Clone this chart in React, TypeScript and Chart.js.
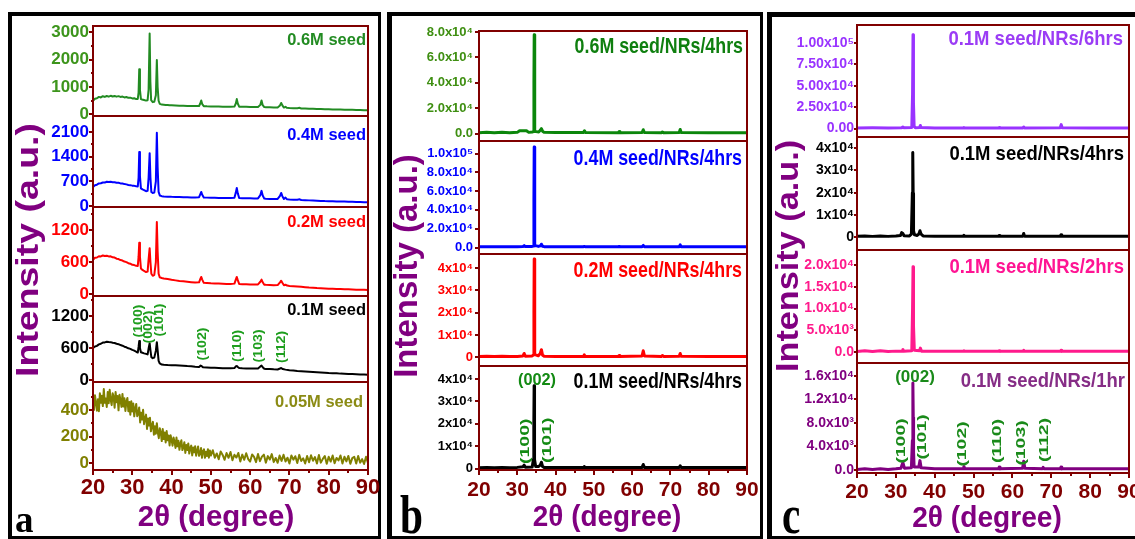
import React, { useEffect, useRef } from "react";
import { Chart, registerables } from "chart.js";

Chart.register(...registerables);

const PAGE_W = 1135;
const PAGE_H = 539;
const CANVAS_W = 1200;
const DARK_RED = "#800000";
const AXIS_PURPLE = "#800080";
const SANS = "'Liberation Sans', Arial, Helvetica, sans-serif";
const NARROW = "'Liberation Sans Narrow', 'Arial Narrow', 'Liberation Sans', Arial, sans-serif";
const SERIF = "'Liberation Serif', 'Times New Roman', serif";

// ---------- x axis ----------
const X_TICKS = [20, 30, 40, 50, 60, 70, 80, 90];
const X_MINOR = [25, 35, 45, 55, 65, 75, 85];

// ---------- panel a: seed layers ----------
const A06: [number, number][] = [[20,500],[20.5,575],[21,590],[21.5,640],[22,620],[22.5,665],[23,640],[23.5,672],[24,650],[24.5,680],[25,655],[25.5,675],[26,650],[26.5,668],[27,640],[27.5,652],[28,622],[28.5,635],[29,605],[29.5,612],[30,585],[30.5,590],[31,560],[31.4,565],[31.6,800],[31.77,1650],[31.95,900],[32.2,560],[32.5,545],[33,525],[33.5,505],[33.9,520],[34.15,900],[34.42,2950],[34.6,1200],[34.8,520],[35.2,450],[35.6,460],[36.0,700],[36.25,1980],[36.45,1000],[36.7,500],[37,385],[37.5,360],[38,352],[38.5,345],[39,342],[39.5,335],[40,332],[41,326],[42,322],[43,316],[44,312],[45,310],[46,305],[47,310],[47.3,400],[47.55,510],[47.8,380],[48.2,302],[49,296],[50,292],[51,290],[52,288],[53,285],[54,284],[55,282],[56,288],[56.35,400],[56.6,560],[56.85,400],[57.2,285],[58,280],[59,278],[60,275],[61,272],[62,272],[62.6,350],[62.9,510],[63.2,340],[63.6,270],[64,265],[65,262],[66,258],[67,258],[67.6,330],[67.9,420],[68.2,330],[68.6,252],[69,280],[69.3,245],[70,236],[71,230],[72,226],[72.6,242],[73,220],[74,215],[75,210],[76,205],[77,200],[78,196],[79,192],[80,190],[81,185],[82,180],[83,178],[84,175],[85,170],[86,168],[87,165],[88,160],[89,156],[90,150]];
const A04: [number, number][] = [[20,540],[20.5,590],[21,605],[21.5,640],[22,645],[22.5,668],[23,664],[23.5,688],[24,680],[24.5,688],[25,675],[25.5,675],[26,660],[26.5,658],[27,642],[27.5,638],[28,622],[28.5,614],[29,598],[29.5,592],[30,578],[30.5,572],[31,560],[31.4,555],[31.6,800],[31.77,1530],[31.95,850],[32.2,500],[32.6,470],[33,450],[33.5,420],[33.9,430],[34.15,800],[34.42,1500],[34.62,800],[34.85,400],[35.2,370],[35.6,380],[36.0,700],[36.25,2080],[36.45,1100],[36.7,400],[37,300],[37.5,280],[38,270],[39,265],[40,260],[41,258],[42,255],[43,250],[44,248],[45,245],[46,242],[47,250],[47.3,330],[47.55,400],[47.8,320],[48.2,240],[49,238],[50,235],[51,232],[52,230],[53,228],[54,226],[55,225],[56,235],[56.35,380],[56.6,510],[56.85,360],[57.2,230],[58,222],[59,220],[60,218],[61,215],[62,215],[62.6,310],[62.9,430],[63.2,300],[63.6,210],[64,205],[65,200],[66,198],[67,200],[67.6,290],[67.9,370],[68.2,280],[68.6,200],[69,240],[69.4,190],[70,185],[71,180],[72,175],[72.6,190],[73,170],[74,165],[75,160],[76,155],[77,150],[78,145],[79,140],[80,138],[81,135],[82,130],[83,128],[84,125],[85,120],[86,118],[87,115],[88,112],[89,110],[90,105]];
const A02: [number, number][] = [[20,640],[20.5,680],[21,685],[21.5,708],[22,705],[22.5,722],[23,712],[23.5,718],[24,705],[24.5,706],[25,688],[25.5,684],[26,662],[26.5,655],[27,636],[27.5,628],[28,608],[28.5,598],[29,578],[29.5,568],[30,548],[30.5,542],[31,528],[31.4,525],[31.6,700],[31.77,960],[31.95,700],[32.2,480],[32.6,452],[33,432],[33.5,412],[33.9,420],[34.15,650],[34.42,860],[34.62,600],[34.85,380],[35.2,342],[35.6,360],[36.0,600],[36.25,1350],[36.45,800],[36.7,380],[37,312],[37.5,300],[38,290],[39,280],[40,266],[41,256],[42,246],[43,238],[44,230],[45,222],[46,215],[47,220],[47.3,280],[47.55,320],[47.8,270],[48.2,210],[49,205],[50,200],[51,198],[52,195],[53,192],[54,190],[55,188],[56,195],[56.35,270],[56.6,320],[56.85,260],[57.2,190],[58,185],[59,182],[60,180],[61,178],[62,180],[62.6,230],[62.9,270],[63.2,220],[63.6,175],[64,172],[65,170],[66,165],[67,168],[67.6,220],[67.9,250],[68.2,210],[68.6,165],[69,175],[69.4,158],[70,150],[71,145],[72,140],[73,135],[74,128],[75,122],[76,118],[77,112],[78,108],[79,105],[80,100],[81,98],[82,95],[83,92],[84,90],[85,88],[86,85],[87,82],[88,80],[89,78],[90,75]];
const A01: [number, number][] = [[20,600],[20.5,628],[21,640],[21.5,668],[22,680],[22.5,702],[23,705],[23.5,718],[24,712],[24.5,710],[25,698],[25.5,694],[26,680],[26.5,672],[27,655],[27.5,644],[28,625],[28.5,614],[29,595],[29.5,584],[30,565],[30.5,552],[31,530],[31.4,515],[31.6,620],[31.77,730],[31.95,600],[32.2,520],[32.6,510],[33,500],[33.5,490],[33.9,480],[34.15,590],[34.42,690],[34.62,560],[34.85,430],[35.2,410],[35.6,420],[36.0,550],[36.25,710],[36.45,560],[36.7,360],[37,310],[37.5,290],[38,285],[39,280],[40,278],[41,275],[42,272],[43,268],[44,262],[45,258],[46,250],[47,245],[47.4,270],[47.6,265],[48,238],[49,235],[50,230],[51,228],[52,225],[53,222],[54,220],[55,220],[56,225],[56.4,260],[56.6,265],[56.85,245],[57.2,225],[58,220],[59,218],[60,215],[61,214],[62,218],[62.6,255],[62.9,270],[63.2,240],[63.6,210],[64,208],[65,205],[66,200],[67,198],[67.6,215],[67.9,225],[68.3,205],[69,195],[70,185],[71,178],[72,170],[73,165],[74,160],[75,155],[76,150],[77,145],[78,140],[79,135],[80,130],[81,128],[82,125],[83,120],[84,118],[85,115],[86,112],[87,110],[88,105],[89,102],[90,100]];
const A005: [number, number][] = [[20,465],[20.25,400],[20.5,510],[20.75,455],[21,395],[21.25,480],[21.5,390],[21.75,524],[22,453],[22.25,506],[22.5,429],[22.75,556],[23,453],[23.25,485],[23.5,422],[23.75,534],[24,450],[24.25,551],[24.5,476],[24.75,436],[25,525],[25.25,499],[25.5,417],[25.75,535],[26,458],[26.25,505],[26.5,397],[26.75,514],[27,471],[27.25,423],[27.5,520],[27.75,426],[28,487],[28.25,393],[28.5,464],[28.75,490],[29,390],[29.25,460],[29.5,365],[29.75,465],[30,389],[30.25,448],[30.5,352],[30.75,411],[31,445],[31.25,353],[31.5,371],[31.75,419],[32,307],[32.25,380],[32.5,328],[32.75,401],[33,294],[33.25,337],[33.5,365],[33.75,258],[34,336],[34.25,284],[34.5,342],[34.75,240],[35,283],[35.25,311],[35.5,215],[35.75,278],[36,222],[36.25,301],[36.5,230],[36.75,189],[37,263],[37.25,232],[37.5,167],[37.75,257],[38,182],[38.25,232],[38.5,157],[38.75,242],[39,173],[39.25,209],[39.5,135],[39.75,211],[40,177],[40.25,133],[40.5,194],[40.75,165],[41,116],[41.25,194],[41.5,128],[41.75,169],[42,102],[42.25,148],[42.5,173],[42.75,100],[43,119],[43.25,159],[43.5,79],[43.75,138],[44,100],[44.25,150],[44.5,74],[44.75,116],[45,133],[45.25,60],[45.5,119],[45.75,83],[46,129],[46.25,58],[46.5,94],[46.75,127],[47,57],[47.25,73],[47.5,115],[47.75,42],[48,97],[48.25,106],[48.5,42],[48.75,88],[49,55],[49.25,107],[49.5,43],[49.75,97],[50,59],[50.5,99],[51,42],[51.5,75],[52,31],[52.5,89],[53,64],[53.5,27],[54,78],[54.5,42],[55,86],[55.5,24],[56,65],[56.5,44],[57,78],[57.5,14],[58,66],[58.5,27],[59,76],[59.5,33],[60,14],[60.5,67],[61,49],[61.5,10],[62,70],[62.5,17],[63,51],[63.5,66],[64,6],[64.5,55],[65,29],[65.5,70],[66,10],[66.5,41],[67,5],[67.5,59],[68,19],[68.5,65],[69,14],[69.5,43],[70,0],[70.5,60],[71,28],[71.5,54],[72,3],[72.5,64],[73,18],[73.5,39],[74,0],[74.5,56],[75,9],[75.5,61],[76,20],[76.5,48],[77,0],[77.5,63],[78,6],[78.5,34],[79,56],[79.5,-2],[80,50],[80.5,14],[81,59],[81.5,2],[82,41],[82.5,22],[83,60],[83.5,0],[84,50],[84.5,15],[85,56],[85.5,-3],[86,40],[86.5,50],[87,0],[87.5,56],[88,6],[88.5,32],[89,-4],[89.5,50],[90,3]];

// ---------- panel b: NRs grown 4 h on different seeds ----------
const B06: [number, number][] = [[20,700],[22,900],[24,700],[26,900],[28,700],[30,900],[30.6,2200],[32.4,2200],[33,900],[33.9,1200],[34.25,1500],[34.35,40000],[34.42,77900],[34.5,30000],[34.6,1500],[34.9,1500],[35.6,1200],[36.0,2500],[36.3,3800],[36.6,1800],[37,900],[40,800],[47.3,800],[47.55,2200],[47.8,800],[56.4,700],[56.6,1500],[56.8,700],[62.6,800],[62.9,3000],[63.2,800],[67.7,700],[67.9,1200],[68.2,700],[72.3,800],[72.55,3200],[72.8,800],[80,700],[90,700]];
const B04: [number, number][] = [[20,700],[22,900],[24,700],[26,900],[28,700],[30,900],[31.5,1200],[31.8,2000],[32.1,1000],[33.9,1200],[34.25,1500],[34.35,50000],[34.42,107000],[34.5,40000],[34.6,2000],[34.8,2000],[35.5,1200],[36.1,1800],[36.3,3500],[36.6,1300],[37,900],[40,800],[47.3,800],[47.5,1200],[47.7,800],[56.4,800],[56.6,1100],[56.8,800],[62.6,900],[62.9,2200],[63.2,900],[72.3,900],[72.55,2800],[72.8,900],[80,800],[90,800]];
const B02: [number, number][] = [[20,400],[22,600],[24,400],[26,600],[28,400],[30,500],[31.5,700],[31.8,1800],[32.1,600],[33.9,700],[34.25,1200],[34.35,20000],[34.42,44000],[34.5,16000],[34.6,1200],[34.8,1200],[35.5,800],[36.0,1800],[36.3,3500],[36.6,1000],[37,600],[40,500],[47.3,500],[47.5,1200],[47.7,500],[56.4,500],[56.6,900],[56.8,500],[62.6,700],[62.9,3000],[63.2,700],[67.7,500],[67.9,900],[68.2,500],[72.3,600],[72.55,1800],[72.8,600],[80,500],[90,500]];
const B01: [number, number][] = [[20,300],[22,500],[24,300],[26,500],[28,300],[30,500],[31.5,800],[31.8,1500],[32.1,600],[33.9,700],[34.2,4000],[34.32,19000],[34.4,37000],[34.46,19000],[34.55,4000],[34.8,900],[35.6,900],[36.0,1500],[36.3,2800],[36.6,900],[37,500],[40,400],[47.3,400],[47.5,900],[47.7,400],[62.6,500],[62.9,1800],[63.2,500],[72.3,400],[72.55,1200],[72.8,400],[80,400],[90,400]];

// ---------- panel c: 0.1M seed, different growth times ----------
const C6: [number, number][] = [[20,600],[24,800],[28,600],[31.5,900],[31.8,1800],[32.1,900],[34.1,1200],[34.3,40000],[34.42,109700],[34.5,78000],[34.56,30000],[34.7,2500],[35,1000],[36.1,1200],[36.3,3500],[36.5,1200],[40,700],[47.3,700],[47.5,1100],[47.7,700],[56.4,700],[56.6,1100],[56.8,700],[62.7,700],[62.9,1800],[63.1,700],[72.3,900],[72.55,4500],[72.8,900],[80,700],[90,600]];
const C4: [number, number][] = [[20,500],[22,700],[24,500],[26,700],[28,500],[30,700],[31.2,900],[31.5,2200],[31.8,1800],[32.1,800],[33.5,700],[34.0,1500],[34.25,20000],[34.35,38000],[34.45,19800],[34.55,3000],[34.8,1200],[35.5,900],[35.9,1500],[36.2,3000],[36.5,1500],[37,700],[40,600],[47.3,600],[47.5,1000],[47.7,600],[56.4,600],[56.6,900],[56.8,600],[62.7,600],[62.9,1800],[63.1,600],[72.3,600],[72.5,1200],[72.7,600],[80,600],[90,600]];
const C2: [number, number][] = [[20,100],[22,300],[24,100],[26,300],[28,100],[30,200],[31.6,200],[31.8,600],[32.0,150],[34.1,300],[34.3,10000],[34.42,19600],[34.5,17000],[34.58,6000],[34.75,400],[36.1,300],[36.3,900],[36.6,200],[40,150],[47.3,150],[47.5,300],[47.7,150],[56.4,150],[56.6,300],[56.8,150],[62.7,150],[62.9,400],[63.1,150],[72.3,150],[72.5,400],[72.7,150],[80,150],[90,150]];
const C1: [number, number][] = [[20,100],[22,200],[24,100],[26,200],[28,100],[30,200],[31.3,300],[31.8,1300],[32.2,300],[34.0,400],[34.25,5000],[34.38,14800],[34.48,9000],[34.56,3000],[34.7,500],[35.9,500],[36.2,1600],[36.5,400],[40,200],[47.3,200],[47.5,600],[47.8,200],[56.4,200],[56.6,500],[56.8,200],[62.6,300],[62.9,1500],[63.2,300],[67.7,200],[67.9,450],[68.2,200],[72.3,200],[72.5,500],[72.7,200],[80,200],[90,200]];

// ---------- y tick values / labels ----------
const A06_TICKS = [0, 1000, 2000, 3000];
const A06_LABELS = ["0", "1000", "2000", "3000"];
const A06_MINOR = [500, 1500, 2500];
const A04_TICKS = [0, 700, 1400, 2100];
const A04_LABELS = ["0", "700", "1400", "2100"];
const A04_MINOR = [350, 1050, 1750];
const A02_TICKS = [0, 600, 1200];
const A02_LABELS = ["0", "600", "1200"];
const A02_MINOR = [300, 900, 1500];
const A01_TICKS = [0, 600, 1200];
const A01_LABELS = ["0", "600", "1200"];
const A01_MINOR = [300, 900, 1500];
const A005_TICKS = [0, 200, 400];
const A005_LABELS = ["0", "200", "400"];
const A005_MINOR = [100, 300, 500];

const B06_TICKS = [0, 20000, 40000, 60000, 80000];
const B06_LABELS = ["0.0", "2.0x10⁴", "4.0x10⁴", "6.0x10⁴", "8.0x10⁴"];
const B04_TICKS = [0, 20000, 40000, 60000, 80000, 100000];
const B04_LABELS = ["0.0", "2.0x10⁴", "4.0x10⁴", "6.0x10⁴", "8.0x10⁴", "1.0x10⁵"];
const B02_TICKS = [0, 10000, 20000, 30000, 40000];
const B02_LABELS = ["0", "1x10⁴", "2x10⁴", "3x10⁴", "4x10⁴"];
const B01_TICKS = [0, 10000, 20000, 30000, 40000];
const B01_LABELS = ["0", "1x10⁴", "2x10⁴", "3x10⁴", "4x10⁴"];

const C6_TICKS = [0, 25000, 50000, 75000, 100000];
const C6_LABELS = ["0.00", "2.50x10⁴", "5.00x10⁴", "7.50x10⁴", "1.00x10⁵"];
const C4_TICKS = [0, 10000, 20000, 30000, 40000];
const C4_LABELS = ["0", "1x10⁴", "2x10⁴", "3x10⁴", "4x10⁴"];
const C2_TICKS = [0, 5000, 10000, 15000, 20000];
const C2_LABELS = ["0.0", "5.0x10³", "1.0x10⁴", "1.5x10⁴", "2.0x10⁴"];
const C1_TICKS = [0, 4000, 8000, 12000, 16000];
const C1_LABELS = ["0.0", "4.0x10³", "8.0x10³", "1.2x10⁴", "1.6x10⁴"];

// ---------- (hkl) peak labels ----------
const A_HKL = ["(100)", "(002)", "(101)", "(102)", "(110)", "(103)", "(112)"];
const A_HKL_X = [31.7, 34.3, 37.0, 48.0, 56.9, 62.3, 68.1];
const A_HKL_Y = [1106, 994, 1125, 675, 640, 640, 620];
const B_HKL = ["(100)", "(101)"];
const B_HKL_X = [32.0, 37.76];
const B_HKL_Y = [12200, 12650];
const B_TOP = ["(002)"];
const B_TOP_X = [35.15];
const B_TOP_Y = [39300];
const C_HKL = ["(100)", "(101)", "(102)", "(110)", "(103)", "(112)"];
const C_HKL_X = [31.58, 36.98, 47.28, 56.28, 62.46, 68.38];
const C_HKL_Y = [4936, 5617, 4425, 4936, 4595, 5106];
const C_TOP = ["(002)"];
const C_TOP_X = [34.93];
const C_TOP_Y = [15830];

type Labels = { text: string[]; x: number[]; y: number[]; rotated: boolean; size: number; sx: number; color: string };
type Sub = {
  data: [number, number][];
  color: string;
  tickColor: string;
  title: string;
  titleColor: string;
  titleRight: number;
  titleBase: number;
  top: number;
  bottom: number;
  yMin: number;
  yMax: number;
  yTicks: number[];
  yLabels: string[];
  yMinor: number[];
  labels?: Labels[];
};
type TextSpec = { text: string; x: number; y: number; size: number; sx: number };
type Panel = {
  left: number;
  right: number;
  lineWidth: number;
  yTickFont: number;
  yTickLen: number;
  yTickPad: number;
  xTickFont: number;
  xTickPad: number;
  titleFont: number;
  titleSx: number;
  subs: Sub[];
  borders: [number, number, number, number][];
  yTitle: TextSpec;
  xTitle: TextSpec;
  letter: TextSpec;
};

const PANELS: Panel[] = [
  {
    left: 93, right: 368, lineWidth: 2,
    yTickFont: 17, yTickLen: 4, yTickPad: 0, xTickFont: 22, xTickPad: 0,
    titleFont: 17, titleSx: 0.97,
    borders: [[8, 12, 4, 527], [8, 12, 373, 4], [378, 12, 3, 527], [8, 536, 373, 3]],
    yTitle: { text: "Intensity (a.u.)", x: 38, y: 250, size: 32, sx: 1.17 },
    xTitle: { text: "2θ (degree)", x: 216, y: 526, size: 30, sx: 0.98 },
    letter: { text: "a", x: 15, y: 532, size: 37, sx: 1.0 },
    subs: [
      { data: A06, color: "#228b22", tickColor: "#3d951c", title: "0.6M seed", titleColor: "#228b22", titleRight: 366, titleBase: 45, top: 26, bottom: 116, yMin: -55, yMax: 3220, yTicks: A06_TICKS, yLabels: A06_LABELS, yMinor: A06_MINOR },
      { data: A04, color: "#0000ff", tickColor: "#0000ff", title: "0.4M seed", titleColor: "#0000ff", titleRight: 366, titleBase: 140, top: 116, bottom: 207, yMin: -28, yMax: 2554, yTicks: A04_TICKS, yLabels: A04_LABELS, yMinor: A04_MINOR },
      { data: A02, color: "#ff0000", tickColor: "#ff0000", title: "0.2M seed", titleColor: "#ff0000", titleRight: 366, titleBase: 227, top: 207, bottom: 296, yMin: -37, yMax: 1631, yTicks: A02_TICKS, yLabels: A02_LABELS, yMinor: A02_MINOR },
      { data: A01, color: "#000000", tickColor: "#000000", title: "0.1M seed", titleColor: "#000000", titleRight: 366, titleBase: 315, top: 296, bottom: 382, yMin: -37, yMax: 1575, yTicks: A01_TICKS, yLabels: A01_LABELS, yMinor: A01_MINOR,
        labels: [{ text: A_HKL, x: A_HKL_X, y: A_HKL_Y, rotated: true, size: 12, sx: 1.18, color: "#1e9e1e" }] },
      { data: A005, color: "#808000", tickColor: "#808000", title: "0.05M seed", titleColor: "#8b8b14", titleRight: 363, titleBase: 407, top: 382, bottom: 470, yMin: -49, yMax: 609, yTicks: A005_TICKS, yLabels: A005_LABELS, yMinor: A005_MINOR },
    ],
  },
  {
    left: 479, right: 747, lineWidth: 3,
    yTickFont: 13, yTickLen: 4, yTickPad: 2, xTickFont: 21, xTickPad: 3,
    titleFont: 22, titleSx: 0.81,
    borders: [[387, 12, 5, 527], [387, 12, 376, 4], [760, 12, 3, 527], [387, 536, 376, 3]],
    yTitle: { text: "Intensity (a.u.)", x: 417, y: 266, size: 33, sx: 1.0 },
    xTitle: { text: "2θ (degree)", x: 607, y: 526, size: 30, sx: 0.93 },
    letter: { text: "b", x: 400, y: 533, size: 55, sx: 0.75 },
    subs: [
      { data: B06, color: "#0b860b", tickColor: "#3f8f12", title: "0.6M seed/NRs/4hrs", titleColor: "#0f7f0f", titleRight: 743, titleBase: 53, top: 31, bottom: 141, yMin: -5900, yMax: 80800, yTicks: B06_TICKS, yLabels: B06_LABELS, yMinor: [] },
      { data: B04, color: "#0000ff", tickColor: "#0000ff", title: "0.4M seed/NRs/4hrs", titleColor: "#0000ff", titleRight: 742, titleBase: 165, top: 141, bottom: 254, yMin: -6900, yMax: 113300, yTicks: B04_TICKS, yLabels: B04_LABELS, yMinor: [] },
      { data: B02, color: "#ff0000", tickColor: "#ff0000", title: "0.2M seed/NRs/4hrs", titleColor: "#ff0000", titleRight: 742, titleBase: 277, top: 254, bottom: 366, yMin: -3800, yMax: 46270, yTicks: B02_TICKS, yLabels: B02_LABELS, yMinor: [] },
      { data: B01, color: "#000000", tickColor: "#000000", title: "0.1M seed/NRs/4hrs", titleColor: "#000000", titleRight: 742, titleBase: 388, top: 366, bottom: 470, yMin: -670, yMax: 45820, yTicks: B01_TICKS, yLabels: B01_LABELS, yMinor: [],
        labels: [
          { text: B_HKL, x: B_HKL_X, y: B_HKL_Y, rotated: true, size: 13, sx: 1.5, color: "#138a13" },
          { text: B_TOP, x: B_TOP_X, y: B_TOP_Y, rotated: false, size: 17, sx: 0.96, color: "#138a13" },
        ] },
    ],
  },
  {
    left: 857, right: 1129, lineWidth: 3,
    yTickFont: 14, yTickLen: 3, yTickPad: 0, xTickFont: 21, xTickPad: 2,
    titleFont: 21, titleSx: 0.88,
    borders: [[767, 12, 5, 527], [767, 12, 368, 5], [767, 536, 368, 3]],
    yTitle: { text: "Intensity (a.u.)", x: 798, y: 256, size: 32, sx: 1.07 },
    xTitle: { text: "2θ (degree)", x: 987, y: 527, size: 29, sx: 0.97 },
    letter: { text: "c", x: 782, y: 533, size: 55, sx: 0.75 },
    subs: [
      { data: C6, color: "#9933ff", tickColor: "#9933ff", title: "0.1M seed/NRs/6hrs", titleColor: "#9b3cf5", titleRight: 1123, titleBase: 45, top: 25, bottom: 137, yMin: -9940, yMax: 121100, yTicks: C6_TICKS, yLabels: C6_LABELS, yMinor: [] },
      { data: C4, color: "#000000", tickColor: "#000000", title: "0.1M seed/NRs/4hrs", titleColor: "#000000", titleRight: 1124, titleBase: 160, top: 137, bottom: 250, yMin: -5590, yMax: 44920, yTicks: C4_TICKS, yLabels: C4_LABELS, yMinor: [] },
      { data: C2, color: "#ff1a8c", tickColor: "#ff1a8c", title: "0.1M seed/NRs/2hrs", titleColor: "#ff1493", titleRight: 1124, titleBase: 273, top: 250, bottom: 363, yMin: -2530, yMax: 23450, yTicks: C2_TICKS, yLabels: C2_LABELS, yMinor: [] },
      { data: C1, color: "#800080", tickColor: "#800080", title: "0.1M seed/NRs/1hr", titleColor: "#862d86", titleRight: 1125, titleBase: 387, top: 363, bottom: 473, yMin: -510, yMax: 18210, yTicks: C1_TICKS, yLabels: C1_LABELS, yMinor: [],
        labels: [
          { text: C_HKL, x: C_HKL_X, y: C_HKL_Y, rotated: true, size: 12.5, sx: 1.55, color: "#1a8a1a" },
          { text: C_TOP, x: C_TOP_X, y: C_TOP_Y, rotated: false, size: 17, sx: 1.0, color: "#1a8a1a" },
        ] },
    ],
  },
];

function drawText(
  ctx: CanvasRenderingContext2D, text: string, x: number, y: number, font: string, color: string,
  align: CanvasTextAlign, baseline: CanvasTextBaseline, rot: number, sx: number
) {
  ctx.save();
  ctx.translate(x, y);
  if (rot) ctx.rotate(rot);
  ctx.scale(sx, 1);
  ctx.font = font;
  ctx.fillStyle = color;
  ctx.textAlign = align;
  ctx.textBaseline = baseline;
  ctx.fillText(text, 0, 0);
  ctx.restore();
}

function decorPlugin(panel: Panel, sub: Sub, isFirst: boolean, isBottom: boolean) {
  return {
    id: "xrdDecor",
    afterDatasetsDraw(chart: any) {
      const ctx: CanvasRenderingContext2D = chart.ctx;
      const a = chart.chartArea;
      const xs = chart.scales.x;
      const ys = chart.scales.y;
      ctx.save();
      ctx.strokeStyle = DARK_RED;
      ctx.lineWidth = 2;
      ctx.strokeRect(a.left, a.top, a.right - a.left, a.bottom - a.top);
      ctx.beginPath();
      for (const v of sub.yMinor) {
        const y = Math.round(ys.getPixelForValue(v));
        ctx.moveTo(a.left - 2, y);
        ctx.lineTo(a.left, y);
      }
      if (isBottom) {
        for (const v of X_MINOR) {
          const x = Math.round(xs.getPixelForValue(v));
          ctx.moveTo(x, a.bottom);
          ctx.lineTo(x, a.bottom + 3);
        }
      }
      ctx.stroke();
      drawText(ctx, sub.title, sub.titleRight, sub.titleBase, `bold ${panel.titleFont}px ${SANS}`, sub.titleColor, "right", "alphabetic", 0, panel.titleSx);
      for (const grp of sub.labels || []) {
        grp.text.forEach((t, i) => {
          const px = xs.getPixelForValue(grp.x[i]);
          const py = ys.getPixelForValue(grp.y[i]);
          drawText(ctx, t, px, py, `bold ${grp.size}px ${SANS}`, grp.color, "center", "middle", grp.rotated ? -Math.PI / 2 : 0, grp.sx);
        });
      }
      ctx.restore();
    },
    afterDraw(chart: any) {
      if (!isFirst) return;
      const ctx: CanvasRenderingContext2D = chart.ctx;
      ctx.save();
      ctx.fillStyle = "#000000";
      for (const [x, y, w, h] of panel.borders) ctx.fillRect(x, y, w, h);
      const yt = panel.yTitle;
      drawText(ctx, yt.text, yt.x, yt.y, `bold ${yt.size}px ${SANS}`, AXIS_PURPLE, "center", "alphabetic", -Math.PI / 2, yt.sx);
      const xt = panel.xTitle;
      drawText(ctx, xt.text, xt.x, xt.y, `bold ${xt.size}px ${SANS}`, AXIS_PURPLE, "center", "alphabetic", 0, xt.sx);
      const lt = panel.letter;
      drawText(ctx, lt.text, lt.x, lt.y, `bold ${lt.size}px ${SERIF}`, "#000000", "left", "alphabetic", 0, lt.sx);
      ctx.restore();
    },
  };
}

function buildChart(canvas: HTMLCanvasElement, panel: Panel, sub: Sub, isFirst: boolean, isBottom: boolean) {
  const XH = 40;
  const YW = 60;
  return new Chart(canvas, {
    type: "line",
    data: {
      datasets: [
        {
          data: sub.data.map(([x, y]) => ({ x, y })),
          borderColor: sub.color,
          borderWidth: panel.lineWidth,
          borderJoinStyle: "round",
          pointRadius: 0,
          tension: 0,
          fill: false,
        },
      ],
    },
    options: {
      animation: false,
      responsive: false,
      maintainAspectRatio: false,
      devicePixelRatio: 1,
      events: [],
      layout: {
        padding: {
          left: panel.left - YW,
          top: sub.top,
          right: CANVAS_W - panel.right,
          bottom: isBottom ? PAGE_H - sub.bottom - XH : PAGE_H - sub.bottom,
        },
      },
      plugins: { legend: { display: false }, tooltip: { enabled: false }, title: { display: false } },
      scales: {
        x: {
          type: "linear",
          min: 20,
          max: 90,
          display: isBottom,
          afterBuildTicks: (s: any) => { s.ticks = X_TICKS.map((v) => ({ value: v })); },
          afterFit: (s: any) => { s.height = isBottom ? XH : 0; },
          grid: { drawOnChartArea: false, drawTicks: true, tickLength: 5, tickWidth: 2, tickColor: DARK_RED, color: DARK_RED, lineWidth: 2 },
          border: { display: false },
          ticks: {
            color: DARK_RED,
            font: { family: NARROW, size: panel.xTickFont, weight: "bold" },
            padding: panel.xTickPad,
            maxRotation: 0,
            autoSkip: false,
            callback: (v: any) => String(v),
          },
        },
        y: {
          type: "linear",
          min: sub.yMin,
          max: sub.yMax,
          afterBuildTicks: (s: any) => { s.ticks = sub.yTicks.map((v) => ({ value: v })); },
          afterFit: (s: any) => { s.width = YW; },
          grid: { drawOnChartArea: false, drawTicks: true, tickLength: panel.yTickLen, tickWidth: 2, tickColor: DARK_RED, color: DARK_RED, lineWidth: 2 },
          border: { display: false },
          ticks: {
            color: sub.tickColor,
            font: { family: SANS, size: panel.yTickFont, weight: "bold" },
            padding: panel.yTickPad,
            autoSkip: false,
            callback: (_v: any, i: number) => sub.yLabels[i] ?? "",
          },
        },
      },
    } as any,
    plugins: [decorPlugin(panel, sub, isFirst, isBottom)],
  });
}

const FLAT = PANELS.flatMap((p, pi) => p.subs.map((s, si) => ({ pi, si })));

export default function App() {
  const refs = useRef<(HTMLCanvasElement | null)[]>([]);
  useEffect(() => {
    const charts: Chart[] = [];
    FLAT.forEach(({ pi, si }, i) => {
      const canvas = refs.current[i];
      if (!canvas) return;
      const panel = PANELS[pi];
      charts.push(buildChart(canvas, panel, panel.subs[si], si === 0, si === panel.subs.length - 1));
    });
    return () => charts.forEach((c) => c.destroy());
  }, []);
  return (
    <div style={{ position: "absolute", left: 0, top: 0, width: PAGE_W, height: PAGE_H, overflow: "hidden", background: "#ffffff" }}>
      {FLAT.map((f, i) => (
        <canvas
          key={`${f.pi}-${f.si}`}
          ref={(el) => { refs.current[i] = el; }}
          width={CANVAS_W}
          height={PAGE_H}
          style={{ position: "absolute", left: 0, top: 0, width: CANVAS_W, height: PAGE_H }}
        />
      ))}
    </div>
  );
}
